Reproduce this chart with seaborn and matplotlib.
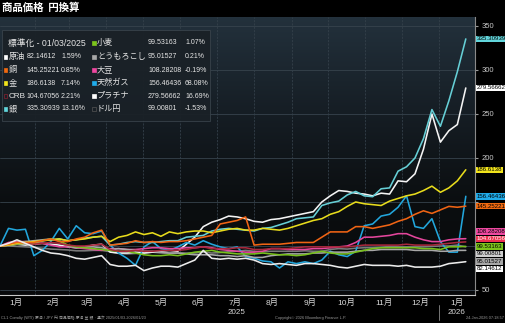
import numpy as np
import pandas as pd
import matplotlib
matplotlib.use('Agg')
import matplotlib.pyplot as plt
import matplotlib.dates as mdates
import matplotlib.transforms as mtransforms
from matplotlib.patches import Rectangle
from matplotlib.colors import LinearSegmentedColormap
import seaborn as sns

# ---------------- data ----------------
start_date = '2025-01-03'
n_weeks = 56
series_names = ['原油', '銅', '金', 'CRB', '銀', '小麦', 'とうもろこし', '大豆', '天然ガス', 'プラチナ', 'ドル円']

crude = [100, 103, 107, 103, 99, 95, 92, 91, 89, 86, 85, 87, 89, 79, 77, 77, 78, 72, 75, 77,
         77, 76, 80, 84, 95, 86, 85, 86, 85, 86, 84, 80, 79, 80, 79, 78, 80, 80, 79, 78,
         76, 75, 77, 79, 78, 78, 78, 77, 78, 76, 76, 76, 77, 80, 81, 82.14612]
copper = [100, 102, 104, 104, 104, 106, 108, 105, 105, 108, 110, 115, 118, 101, 102, 103, 106, 104, 105, 104,
          105, 105, 106, 108, 110, 112, 125, 127, 129, 133, 101, 102, 102, 102, 103, 104, 104, 104, 110, 116,
          116, 116, 122, 122, 120, 122, 124, 128, 131, 136, 140, 137, 141, 145, 144, 145.25221]
gold = [100, 101, 103, 104, 105, 106, 107, 108, 106, 107, 108, 110, 111, 105, 110, 112, 116, 113, 115, 111,
        116, 114, 116, 117, 117, 115, 117, 119, 120, 118, 118, 120, 119, 118, 120, 123, 126, 129, 131, 136,
        139, 145, 150, 148, 147, 146, 151, 154, 157, 159, 163, 168, 161, 166, 174, 186.6138]
crb = [100, 101, 103, 103, 102, 103, 104, 103, 101, 100, 100, 101, 102, 96, 94, 94, 95, 94, 94, 95,
       95, 95, 96, 98, 99, 97, 97, 97, 98, 98, 96, 96, 97, 97, 97, 98, 99, 99, 99, 99,
       99, 99, 100, 101, 101, 101, 101, 101, 102, 101, 101, 101, 102, 103, 104, 104.67056]
silver = [100, 102, 103, 104, 104, 106, 107, 108, 106, 107, 109, 110, 111, 101, 102, 104, 105, 104, 104, 105,
          106, 106, 110, 111, 112, 117, 119, 120, 119, 118, 117, 120, 121, 124, 127, 131, 132, 133, 146, 149,
          151, 158, 162, 157, 156, 165, 166, 185, 190, 200, 222, 255, 236, 265, 298, 335.30939]
wheat = [100, 101, 102, 103, 103, 106, 108, 106, 101, 99, 98, 97, 96, 95, 94, 94, 92, 90, 89, 89,
         90, 89, 91, 93, 94, 95, 93, 92, 91, 91, 91, 92, 91, 90, 90, 89, 90, 92, 94, 92,
         91, 91, 93, 95, 97, 98, 98, 98, 98, 98, 97, 97, 96, 99, 99, 99.53163]
corn = [100, 102, 104, 105, 106, 107, 108, 106, 100, 98, 99, 99, 98, 96, 97, 96, 95, 94, 94, 93,
        92, 92, 91, 90, 90, 90, 89, 89, 88, 89, 87, 87, 89, 90, 91, 91, 91, 92, 92, 93,
        93, 93, 94, 95, 95, 96, 96, 96, 96, 95, 95, 95, 94, 94, 95, 95.01527]
soy = [100, 104, 105, 105, 104, 103, 101, 99, 99, 98, 97, 96, 95, 97, 97, 96, 96, 97, 98, 98,
       97, 97, 98, 98, 99, 98, 96, 95, 94, 93, 93, 94, 97, 97, 96, 96, 96, 97, 97, 98,
       99, 100, 104, 110, 110, 111, 112, 114, 114, 110, 107, 105, 105, 107, 108, 108.28208]
natgas = [100, 120, 118, 119, 89, 95, 105, 120, 108, 123, 115, 114, 117, 101, 92, 86, 78, 99, 105, 97,
          95, 99, 104, 101, 106, 102, 99, 97, 99, 88, 86, 83, 82, 75, 82, 80, 82, 80, 84, 94,
          90, 88, 94, 123, 125, 134, 136, 144, 157, 122, 120, 131, 105, 93, 93, 156.46436]
platinum = [100, 101, 102, 101, 102, 103, 102, 101, 99, 98, 99, 101, 102, 93, 92, 92, 93, 92, 93, 94,
            95, 94, 102, 110, 122, 127, 130, 134, 133, 131, 128, 127, 130, 131, 133, 135, 137, 139, 150, 157,
            163, 162, 160, 159, 157, 160, 159, 174, 173, 182, 210, 250, 218, 231, 238, 279.56662]
usdjpy = [100, 100, 99.5, 99, 98.5, 97.5, 96.5, 96, 95.5, 94.5, 94.5, 95, 95, 93.5, 91.5, 91, 91.5, 92, 93, 92,
          91.5, 92, 92, 92, 93, 92, 92.5, 93.5, 94, 95, 94, 93.5, 94, 94, 94, 94, 94.5, 94, 94, 96,
          97, 96.5, 97.5, 98, 98, 98.5, 99.5, 99, 99, 99, 99, 99.5, 100, 100, 101, 99.00801]

last_values = ['82.14612', '145.25221', '186.6138', '104.67056', '335.30939', '99.53163',
               '95.01527', '108.28208', '156.46436', '279.56662', '99.00801']
pct_changes = ['1.59%', '0.85%', '7.14%', '2.21%', '13.16%', '1.07%',
               '0.21%', '-0.19%', '68.08%', '16.69%', '-1.53%']
month_labels = ['1月', '2月', '3月', '4月', '5月', '6月', '7月', '8月', '9月', '10月', '11月', '12月', '1月']
y_ticks = [50, 100, 150, 200, 250, 300, 350]
y_ticklabels = ['50', '', '', '200', '250', '300', '350']

line_colors = {
    '原油': '#ececec', '銅': '#f06414', '金': '#e8dc1c', 'CRB': '#a8283c', '銀': '#66cfd6',
    '小麦': '#78c01c', 'とうもろこし': '#a8a8a8', '大豆': '#e4469c', '天然ガス': '#22a6dc',
    'プラチナ': '#f4f4f4', 'ドル円': '#7a7a7a'}
label_box = {
    '原油': ('#ffffff', '#000000'), '銅': ('#f26a10', '#000000'), '金': ('#f2e41c', '#000000'),
    'CRB': ('#ec3050', '#ffffff'), '銀': ('#62d6dc', '#000000'), '小麦': ('#7cc41c', '#000000'),
    'とうもろこし': ('#a8a8a8', '#000000'), '大豆': ('#ee48a0', '#000000'),
    '天然ガス': ('#20acea', '#000000'), 'プラチナ': ('#ffffff', '#000000'), 'ドル円': ('#cfcfcf', '#000000')}

values = [crude, copper, gold, crb, silver, wheat, corn, soy, natgas, platinum, usdjpy]
dates = pd.date_range(start_date, periods=n_weeks, freq='7D')
df = pd.concat([pd.DataFrame({'date': dates, 'value': v, 'series': n})
                for n, v in zip(series_names, values)], ignore_index=True)

# ---------------- style ----------------
sns.set_style('dark')
CJK = 'Noto Sans CJK JP'
LAT = 'Liberation Sans'
plt.rcParams['font.family'] = [CJK, 'DejaVu Sans']
MIX = [LAT, CJK]

W, H = 505, 323
fig = plt.figure(figsize=(W / 100, H / 100), dpi=100, facecolor='black')
ax = fig.add_axes([0, 1 - 295 / H, 475 / W, (295 - 17) / H])

x0 = mdates.date2num(pd.Timestamp(start_date))
x1 = x0 + 392.6
y0, y1 = 44.3, 360.2

cmap = LinearSegmentedColormap.from_list('bg', ['#23313c', '#161e25', '#0b0e10', '#08090b'])
grad = np.linspace(0, 1, 256)[:, None]
ax.imshow(grad, extent=[x0, x1, y0, y1], aspect='auto', cmap=cmap, zorder=0, origin='upper')

for yt in y_ticks:
    ax.axhline(yt, color='#37434d', lw=0.6, zorder=1)
for m in pd.date_range('2025-02-01', '2026-01-01', freq='MS'):
    ax.axvline(mdates.date2num(m), color='#34404a', lw=0.6, ls=(0, (2.5, 1.5)), zorder=1)

sns.lineplot(data=df, x='date', y='value', hue='series', hue_order=series_names[::-1],
             palette=line_colors, legend=False, ax=ax, linewidth=1.15, zorder=3)

ax.set_xlabel('')
ax.set_ylabel('')
ax.grid(False)
for s in ['top', 'left']:
    ax.spines[s].set_visible(False)
ax.spines['bottom'].set_color('#c8c8c8')
ax.spines['bottom'].set_linewidth(0.8)
ax.spines['right'].set_color('#8a8a8a')
ax.spines['right'].set_linewidth(0.8)

# x ticks
ax.xaxis.set_major_locator(mdates.MonthLocator())
ax.xaxis.set_major_formatter(plt.NullFormatter())
mid = pd.date_range('2025-01-01', periods=13, freq='MS') + pd.Timedelta(days=15)
ax.set_xticks(mdates.date2num(mid), minor=True)
ax.set_xticklabels(month_labels, minor=True)
ax.tick_params(axis='x', which='major', length=3, color='#9a9a9a', direction='out')
ax.tick_params(axis='x', which='minor', length=0, pad=3, labelsize=6, labelcolor='#d8d8d8')
for t in ax.get_xticklabels(minor=True):
    t.set_family(MIX)

# y ticks (100 and 150 are hidden behind the value labels in the original)
ax.yaxis.tick_right()
ax.set_yticks(y_ticks)
ax.set_yticklabels(y_ticklabels)
ax.tick_params(axis='y', length=2.5, color='#9a9a9a', pad=2, labelsize=5.5, labelcolor='#c8c8c8')
for t in ax.get_yticklabels():
    t.set_family(LAT)

ax.set_xlim(x0, x1)
ax.set_ylim(y0, y1)

# right-side value labels (stacked where they would collide)
ytr = ax.get_yaxis_transform()
label_pos = {'大豆': 116.5, 'CRB': 108.0, '小麦': 99.5, 'ドル円': 91.0, 'とうもろこし': 82.5, '原油': 74.0}
label_order = ['ドル円', 'とうもろこし', '小麦', '大豆', 'CRB', '原油', '銅', '天然ガス', '金', 'プラチナ', '銀']
for k, n in enumerate(label_order):
    i = series_names.index(n)
    fc, tc = label_box[n]
    ax.text(1.003, label_pos.get(n, values[i][-1]), last_values[i], transform=ytr, ha='left', va='center',
            fontsize=4.4, family=LAT, color=tc, clip_on=False, zorder=10 + k,
            bbox=dict(boxstyle='square,pad=0.12', fc=fc, ec='none'))

# year labels and separator
fig.text(237 / W, 1 - 313 / H, '2025', ha='center', va='center', fontsize=5.8, color='#d8d8d8', family=LAT)
fig.text(457 / W, 1 - 313 / H, '2026', ha='center', va='center', fontsize=5.8, color='#d8d8d8', family=LAT)
blend = mtransforms.blended_transform_factory(ax.transData, fig.transFigure)
xsep = mdates.date2num(pd.Timestamp('2026-01-01'))
ax.plot([xsep, xsep], [1 - 305 / H, 1 - 320 / H], transform=blend, color='#8a8a8a', lw=0.6, clip_on=False)

# header
fig.text(2 / W, 1 - 8 / H, '商品価格  円換算', ha='left', va='center', fontsize=7.5,
         fontweight='bold', color='white', family=[CJK])

# legend box
fig.add_artist(Rectangle((2 / W, 1 - 121 / H), 208 / W, 91 / H, transform=fig.transFigure,
                         fc='#1a2127', ec='#3a444c', lw=0.6, alpha=0.95, zorder=5))
txtc = '#e6e6e6'
fig.text(8 / W, 1 - 43 / H, '標準化 - 01/03/2025', ha='left', va='center', fontsize=6.3,
         color=txtc, family=MIX, zorder=6)
left_col = ['原油', '銅', '金', 'CRB', '銀']
right_col = ['小麦', 'とうもろこし', '大豆', '天然ガス', 'プラチナ', 'ドル円']
rows_y = [43, 57, 70, 83, 96, 109]


def legend_row(n, y, xs, xn, xv, xp):
    i = series_names.index(n)
    hollow = n in ('CRB', 'ドル円')
    ec = '#8a2030' if n == 'CRB' else ('#555555' if n == 'ドル円' else label_box[n][0])
    fc = 'none' if hollow else label_box[n][0]
    fig.add_artist(Rectangle((xs / W, 1 - (y + 2) / H), 3.5 / W, 4 / H, transform=fig.transFigure,
                             fc=fc, ec=ec, lw=0.5, zorder=6))
    fig.text(xn / W, 1 - y / H, n, ha='left', va='center', fontsize=5.9, color=txtc, family=MIX, zorder=6)
    fig.text(xv / W, 1 - y / H, last_values[i], ha='left', va='center', fontsize=5.0, color=txtc,
             family=LAT, zorder=6)
    fig.text(xp / W, 1 - y / H, pct_changes[i], ha='left', va='center', fontsize=5.0, color=txtc,
             family=LAT, zorder=6)


for n, y in zip(left_col, rows_y[1:]):
    legend_row(n, y, 3.5, 8.5, 26.5, 61)
for n, y in zip(right_col, rows_y):
    legend_row(n, y, 92, 97, 148, 185)

# footer
fig.text(1 / W, 1 - 318 / H, 'CL1 Comdty (WTI) 原油 / JPY 円 商品価格 原油 金 銀 · 週次 2025/01/03-2026/01/23',
         ha='left', va='center', fontsize=2.8, color='#9a9a9a', family=MIX)
fig.text(275 / W, 1 - 318 / H, 'Copyright© 2026 Bloomberg Finance L.P.', ha='left', va='center',
         fontsize=2.8, color='#9a9a9a', family=LAT)
fig.text(504 / W, 1 - 318 / H, '24-Jan-2026 07:18:57', ha='right', va='center',
         fontsize=2.8, color='#9a9a9a', family=LAT)

fig.savefig('out.png', dpi=100, facecolor='black')
